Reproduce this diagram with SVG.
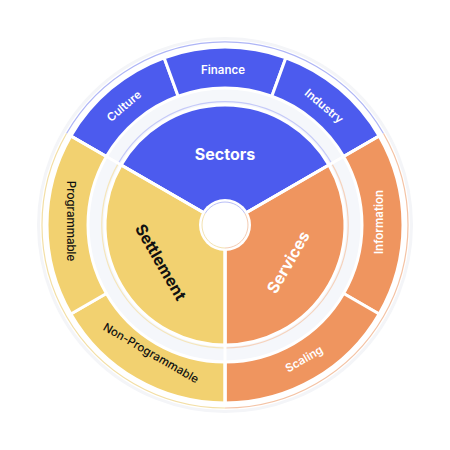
<svg xmlns="http://www.w3.org/2000/svg" width="450" height="450" viewBox="0 0 450 450">
<defs>
<style>
.seg{stroke:#fff;stroke-width:3;stroke-linejoin:round}
.blue{fill:#4C5BEE}
.orange{fill:#EF955F}
.yellow{fill:#F2D170}
.lbl{font-family:Inter,"Liberation Sans",sans-serif;text-anchor:middle;dominant-baseline:central}
.big{font-size:16px;font-weight:700}
.small{font-size:11.5px;font-weight:600}
.w{fill:#fff}
.k{fill:#111}
.thin{fill:none;stroke-width:1.2}
</style>
</defs>
<rect width="450" height="450" fill="#fff"/>
<circle cx="225" cy="225" r="186.5" fill="#fff" stroke="#f4f5f8" stroke-width="3"/>
<g id="outer-ring">
<path class="thin" stroke="#AEB5F6" d="M66.5,133.5 A183 183 0 0 1 383.5,133.5"/>
<path class="thin" stroke="#F4C3A5" d="M383.5,133.5 A183 183 0 0 1 225,408"/>
<path class="thin" stroke="#F3DFA6" d="M225,408 A183 183 0 0 1 66.5,133.5"/>
</g>
<g id="band">
<circle cx="225" cy="225" r="137" fill="#F5F7FB"/>
<path class="thin" stroke="#C5CAF8" d="M106.36,156.5 A137 137 0 0 1 343.64,156.5" stroke-width="1"/>
<path class="thin" stroke="#F6D3BD" d="M343.64,156.5 A137 137 0 0 1 225,362" stroke-width="1"/>
<path class="thin" stroke="#F5E6BC" d="M225,362 A137 137 0 0 1 106.36,156.5" stroke-width="1"/>
<path class="thin" stroke="#C5CAF8" d="M118.3,163.4 A123 123 0 0 1 331.7,163.4" stroke-width="1"/>
<path class="thin" stroke="#F6D3BD" d="M331.7,163.4 A123 123 0 0 1 225,348" stroke-width="1"/>
<path class="thin" stroke="#F5E6BC" d="M225,348 A123 123 0 0 1 118.3,163.4" stroke-width="1"/>
</g>
<g id="culture">
<path class="seg blue" d="M70.85,136 A178 178 0 0 1 164.12,57.73 L178.15,96.26 A137 137 0 0 0 106.36,156.5 Z"/>
<text class="lbl small w" transform="translate(124,106) rotate(-40)">Culture</text>
</g>
<g id="finance">
<path class="seg blue" d="M164.12,57.73 A178 178 0 0 1 285.88,57.73 L271.85,96.26 A137 137 0 0 0 178.15,96.26 Z"/>
<text class="lbl small w" x="223" y="70">Finance</text>
</g>
<g id="industry">
<path class="seg blue" d="M285.88,57.73 A178 178 0 0 1 379.15,136 L343.64,156.5 A137 137 0 0 0 271.85,96.26 Z"/>
<text class="lbl small w" transform="translate(324,106) rotate(40)">Industry</text>
</g>
<g id="information">
<path class="seg orange" d="M379.15,136 A178 178 0 0 1 379.15,314 L343.64,293.5 A137 137 0 0 0 343.64,156.5 Z"/>
<text class="lbl small w" transform="translate(379,222) rotate(-90)">Information</text>
</g>
<g id="scaling">
<path class="seg orange" d="M379.15,314 A178 178 0 0 1 225,403 L225,362 A137 137 0 0 0 343.64,293.5 Z"/>
<text class="lbl small w" transform="translate(304,359) rotate(-30)">Scaling</text>
</g>
<g id="non-programmable">
<path class="seg yellow" d="M225,403 A178 178 0 0 1 70.85,314 L106.36,293.5 A137 137 0 0 0 225,362 Z"/>
<text class="lbl small k" style="font-weight:500" transform="translate(151,353) rotate(30)">Non-Programmable</text>
</g>
<g id="programmable">
<path class="seg yellow" d="M70.85,314 A178 178 0 0 1 70.85,136 L106.36,156.5 A137 137 0 0 0 106.36,293.5 Z"/>
<text class="lbl small k" style="font-weight:500" transform="translate(71,221) rotate(90)">Programmable</text>
</g>
<g id="sectors">
<path class="seg blue" d="M225,225 L121.08,165 A120 120 0 0 1 328.92,165 Z"/>
<text class="lbl big w" x="225" y="154">Sectors</text>
</g>
<g id="services">
<path class="seg orange" d="M225,225 L328.92,165 A120 120 0 0 1 225,345 Z"/>
<text class="lbl big w" transform="translate(288,262) rotate(-60)">Services</text>
</g>
<g id="settlement">
<path class="seg yellow" d="M225,225 L225,345 A120 120 0 0 1 121.08,165 Z"/>
<text class="lbl big k" transform="translate(161,262) rotate(60)">Settlement</text>
</g>
<g id="dividers" stroke="#fff" stroke-width="3">
<line x1="225" y1="225" x2="225" y2="406"/>
<line x1="225" y1="225" x2="68.3" y2="134.5"/>
<line x1="225" y1="225" x2="381.7" y2="134.5"/>
</g>
<g id="center">
<circle cx="225" cy="225" r="26" fill="#fff"/>
<path fill="none" stroke="#B9BFF7" stroke-width="1" d="M205.1,213.5 A23 23 0 0 1 244.9,213.5"/>
<path fill="none" stroke="#F4CDB4" stroke-width="1" d="M244.9,213.5 A23 23 0 0 1 225,248"/>
<path fill="none" stroke="#F3E2B2" stroke-width="1" d="M225,248 A23 23 0 0 1 205.1,213.5"/>
</g>
</svg>
